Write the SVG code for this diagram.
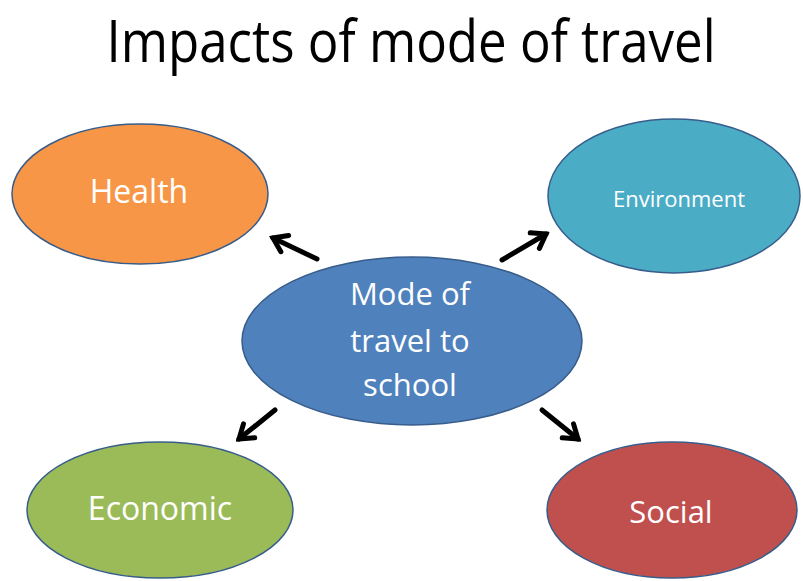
<svg xmlns="http://www.w3.org/2000/svg" width="803" height="581" viewBox="0 0 803 581">
  <style>
    .node ellipse { stroke: #385D8A; stroke-width: 1.5; }
    .lbl { font-family: "Open Sans", "Liberation Sans", sans-serif; fill: #ffffff; text-anchor: middle; }
    .title { font-family: "Open Sans", "Liberation Sans", sans-serif; fill: #000000; text-anchor: middle; }
    .conn line { stroke: #000000; stroke-width: 5; stroke-linecap: round; }
  </style>
  <defs>
    <marker id="arrow" viewBox="-20 -12 24 24" refX="0" refY="0" markerWidth="24" markerHeight="24" markerUnits="userSpaceOnUse" orient="auto">
      <path d="M -13 -9 L 0 0 L -13 9" fill="none" stroke="#000000" stroke-width="5" stroke-linecap="round" stroke-linejoin="miter"/>
    </marker>
  </defs>
  <rect width="803" height="581" fill="#ffffff"/>
  <text class="title" transform="translate(411,62) scale(0.88,1)" x="0" y="0" font-size="58">Impacts of mode of travel</text>

  <g id="health" class="node">
    <ellipse cx="140" cy="194" rx="128" ry="70" fill="#F79646"/>
    <text class="lbl" x="139" y="203" font-size="32">Health</text>
  </g>
  <g id="environment" class="node">
    <ellipse cx="674" cy="196" rx="126" ry="77" fill="#4BACC6"/>
    <text class="lbl" x="679" y="207" font-size="22">Environment</text>
  </g>
  <g id="mode" class="node">
    <ellipse cx="412" cy="341" rx="170" ry="84" fill="#4F81BD"/>
    <text class="lbl" x="410" y="305" font-size="31">Mode of</text>
    <text class="lbl" x="410" y="352" font-size="31">travel to</text>
    <text class="lbl" x="410" y="396" font-size="31">school</text>
  </g>
  <g id="economic" class="node">
    <ellipse cx="160" cy="510" rx="133" ry="68" fill="#9BBB59"/>
    <text class="lbl" x="160" y="520" font-size="32">Economic</text>
  </g>
  <g id="social" class="node">
    <ellipse cx="672" cy="510" rx="125" ry="68" fill="#C0504D"/>
    <text class="lbl" x="671" y="523" font-size="31">Social</text>
  </g>

  <g id="connectors" class="conn">
    <line x1="317" y1="259" x2="273" y2="238" marker-end="url(#arrow)"/>
    <line x1="502" y1="260" x2="546" y2="234" marker-end="url(#arrow)"/>
    <line x1="275" y1="410" x2="239" y2="439" marker-end="url(#arrow)"/>
    <line x1="542" y1="410" x2="578" y2="439" marker-end="url(#arrow)"/>
  </g>
</svg>
